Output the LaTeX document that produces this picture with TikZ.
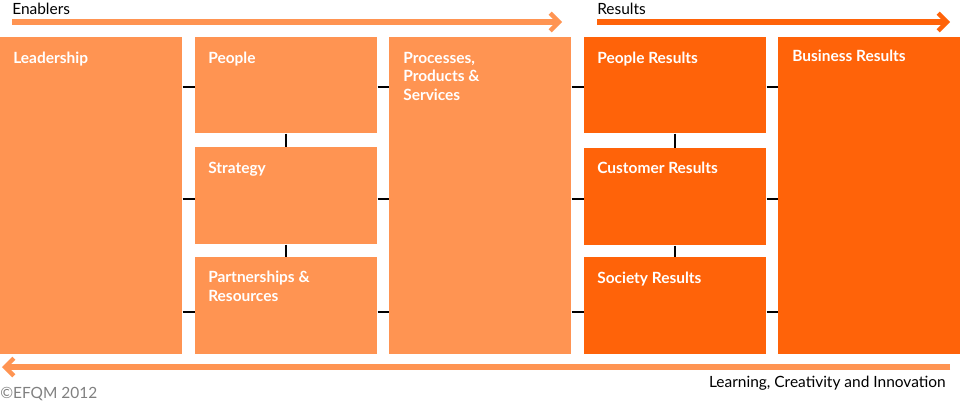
\documentclass[tikz,border=0pt]{standalone}
\usepackage{fontspec}
\setmainfont{Lato}
\usetikzlibrary{arrows.meta,positioning}
\definecolor{enabler}{HTML}{FF9452}
\definecolor{result}{HTML}{FF6309}
\tikzset{
  box/.style={fill=#1,minimum width=45.5mm,anchor=north west,inner sep=0pt},
  lbl/.style={anchor=north west,text=white,font=\bfseries\fontsize{11}{13}\selectfont,align=left,inner sep=0pt},
  link/.style={line width=0.5mm,black},
  flow/.style={line width=1.3mm,-{Straight Barb[length=2.2mm,width=4.4mm,line width=1.1mm]},#1}
}
\begin{document}
\begin{tikzpicture}[x=0.25mm,y=-0.25mm]
\useasboundingbox (0,0) rectangle (960,406);
% enablers
\node[box=enabler,minimum height=79.25mm] (lead) at (0,37) {};
\node[box=enabler,minimum height=24mm] (peop) at (195,37) {};
\node[box=enabler,minimum height=24.25mm] (strat) at (195,147) {};
\node[box=enabler,minimum height=24.25mm] (part) at (195,257) {};
\node[box=enabler,minimum height=79.25mm] (proc) at (389,37) {};
% results
\node[box=result,minimum height=24mm] (pres) at (584,37) {};
\node[box=result,minimum height=24.25mm] (cres) at (584,148) {};
\node[box=result,minimum height=24.25mm] (sres) at (584,257) {};
\node[box=result,minimum height=79.25mm] (bres) at (778,37) {};
% labels
\node[lbl] at (13,52) {Leadership};
\node[lbl] at (208,52) {People};
\node[lbl] at (208,162) {Strategy};
\node[lbl] at (208,271) {Partnerships \&\\Resources};
\node[lbl] at (403,52) {Processes,\\Products \&\\Services};
\node[lbl] at (597,52) {People Results};
\node[lbl] at (597,162) {Customer Results};
\node[lbl] at (597,272) {Society Results};
\node[lbl] at (792,50) {Business Results};
% links
\draw[link] (lead.east|-0,87) -- (peop.west|-0,87);
\draw[link] (lead.east|-0,199) -- (strat.west|-0,199);
\draw[link] (lead.east|-0,312) -- (part.west|-0,312);
\draw[link] (peop.east|-0,87) -- (proc.west|-0,87);
\draw[link] (strat.east|-0,199) -- (proc.west|-0,199);
\draw[link] (part.east|-0,312) -- (proc.west|-0,312);
\draw[link] (proc.east|-0,87) -- (pres.west|-0,87);
\draw[link] (proc.east|-0,199) -- (cres.west|-0,199);
\draw[link] (proc.east|-0,312) -- (sres.west|-0,312);
\draw[link] (pres.east|-0,87) -- (bres.west|-0,87);
\draw[link] (cres.east|-0,199) -- (bres.west|-0,199);
\draw[link] (sres.east|-0,312) -- (bres.west|-0,312);
\draw[link] (peop.south) -- (strat.north);
\draw[link] (strat.south) -- (part.north);
\draw[link] (pres.south) -- (cres.north);
\draw[link] (cres.south) -- (sres.north);
% flows
\coordinate (en1) at (12,22);
\coordinate (en2) at (562,22);
\coordinate (re1) at (597,22);
\coordinate (re2) at (950,22);
\coordinate (lc1) at (950,367);
\coordinate (lc2) at (2,367);
\draw[flow=enabler] (en1) -- (en2);
\draw[flow=result] (re1) -- (re2);
\draw[flow=enabler] (lc1) -- (lc2);
\node[anchor=south west,inner sep=0pt,font=\fontsize{11}{13}\selectfont] at (12,15) {Enablers};
\node[anchor=south west,inner sep=0pt,font=\fontsize{11}{13}\selectfont] at (597,15) {Results};
\node[anchor=north east,inner sep=0pt,font=\fontsize{11}{13}\selectfont] at (946,376) {Learning, Creativity and Innovation};
\node[anchor=north west,inner sep=0pt,text=gray,font=\fontsize{11}{13}\selectfont] at (0,387) {\textcopyright EFQM 2012};
\end{tikzpicture}
\end{document}
